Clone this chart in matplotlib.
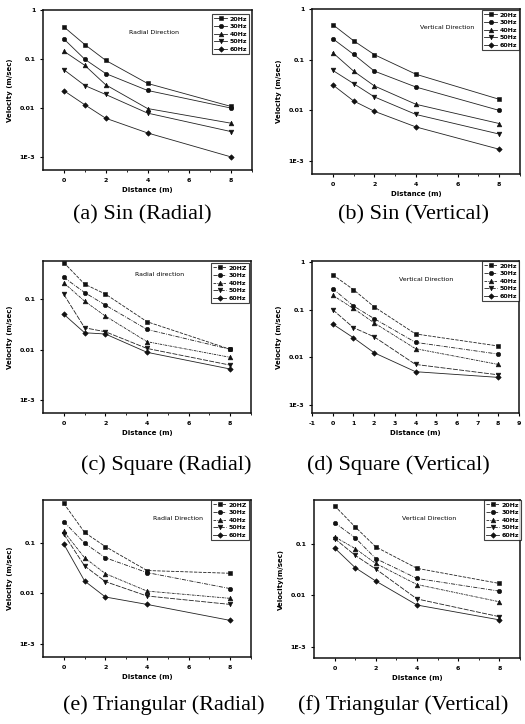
import matplotlib
matplotlib.use("Agg")
import matplotlib.pyplot as plt
from matplotlib.ticker import FixedLocator, NullLocator

W, H = 525, 724
distance = [0, 1, 2, 4, 8]
freqs = ["20Hz", "30Hz", "40Hz", "50Hz", "60Hz"]
freqs_c = ["20HZ", "30Hz", "40Hz", "50Hz", "60Hz"]

sin_radial = {
    "20Hz": [0.46, 0.20, 0.095, 0.032, 0.0108],
    "30Hz": [0.26, 0.10, 0.051, 0.023, 0.010],
    "40Hz": [0.146, 0.075, 0.030, 0.0098, 0.0049],
    "50Hz": [0.061, 0.029, 0.019, 0.0079, 0.0033],
    "60Hz": [0.0227, 0.0117, 0.0062, 0.0031, 0.0010],
}
sin_vertical = {
    "20Hz": [0.50, 0.24, 0.127, 0.052, 0.0166],
    "30Hz": [0.263, 0.129, 0.060, 0.029, 0.010],
    "40Hz": [0.139, 0.060, 0.0305, 0.0132, 0.0055],
    "50Hz": [0.062, 0.034, 0.0185, 0.0083, 0.0034],
    "60Hz": [0.032, 0.0154, 0.0096, 0.0047, 0.0017],
}
square_radial = {
    "20Hz": [0.53, 0.198, 0.126, 0.0356, 0.0101],
    "30Hz": [0.27, 0.135, 0.076, 0.025, 0.0101],
    "40Hz": [0.21, 0.091, 0.046, 0.0143, 0.0070],
    "50Hz": [0.124, 0.027, 0.0225, 0.0105, 0.0049],
    "60Hz": [0.050, 0.0215, 0.0203, 0.0088, 0.0041],
}
square_vertical = {
    "20Hz": [0.54, 0.264, 0.115, 0.031, 0.0173],
    "30Hz": [0.277, 0.12, 0.065, 0.0206, 0.0117],
    "40Hz": [0.20, 0.106, 0.053, 0.0152, 0.0071],
    "50Hz": [0.10, 0.042, 0.027, 0.0071, 0.0043],
    "60Hz": [0.050, 0.0258, 0.0125, 0.0050, 0.0038],
}
tri_radial = {
    "20Hz": [0.59, 0.158, 0.083, 0.028, 0.0247],
    "30Hz": [0.257, 0.097, 0.050, 0.0255, 0.0123],
    "40Hz": [0.165, 0.050, 0.0243, 0.011, 0.0079],
    "50Hz": [0.146, 0.0345, 0.0169, 0.0088, 0.0060],
    "60Hz": [0.093, 0.0174, 0.0084, 0.0060, 0.0029],
}
tri_vertical = {
    "20Hz": [0.54, 0.21, 0.086, 0.033, 0.0168],
    "30Hz": [0.255, 0.129, 0.051, 0.021, 0.0119],
    "40Hz": [0.135, 0.080, 0.041, 0.016, 0.0074],
    "50Hz": [0.125, 0.059, 0.032, 0.0084, 0.0038],
    "60Hz": [0.082, 0.034, 0.0187, 0.0064, 0.0033],
}

markers = ["s", "o", "^", "v", "D"]
msizes = [3.2, 3.2, 3.4, 3.4, 2.8]
styles_solid = ["-"] * 5
styles_mixed = [(0, (4, 1.5)), (0, (5, 1.5, 1, 1.5)), (0, (3, 1, 1, 1)), (0, (6, 1.5)), "-"]

panels = [
    (sin_radial, freqs, (43, 10, 252, 170), (5.4e-4, 1.02), "Radial Direction", (0.53, 0.86),
     (213, 14, 249, 61), styles_solid, [0, 2, 4, 6, 8], "Velocity (m/sec)", "(a) Sin (Radial)", (142, 215)),
    (sin_vertical, freqs, (312, 9, 520, 174), (5.5e-4, 1.02), "Vertical Direction", (0.65, 0.89),
     (479, 10, 519, 53), styles_solid, [0, 2, 4, 6, 8], "Velocity (m/sec)", "(b) Sin (Vertical)", (413, 215)),
    (square_radial, freqs_c, (43, 261, 251, 413), (5.5e-4, 0.57), "Radial direction", (0.56, 0.91),
     (205, 263, 249, 308), styles_mixed, [0, 2, 4, 6, 8], "Velocity (m/sec)", "(c) Square (Radial)", (166, 465)),
    (square_vertical, freqs, (312, 261, 519, 413), (6.8e-4, 1.05), "Vertical Direction", (0.55, 0.88),
     (484, 261, 519, 308), styles_mixed, list(range(-1, 10)), "Velocity (m/sec)", "(d) Square (Vertical)", (398, 465)),
    (tri_radial, freqs_c, (43, 500, 251, 657), (5.5e-4, 0.69), "Radial Direction", (0.65, 0.885),
     (205, 500, 249, 557), styles_mixed, [0, 2, 4, 6, 8], "Velocity (m/sec)", "(e) Triangular (Radial)", (164, 705)),
    (tri_vertical, freqs, (314, 500, 520, 658), (6.0e-4, 0.70), "Vertical Direction", (0.56, 0.885),
     (484, 500, 521, 552), styles_mixed, [0, 2, 4, 6, 8], "Velocity(m/sec)", "(f) Triangular (Vertical)", (403, 705)),
]

fig = plt.figure(figsize=(W / 100, H / 100), dpi=100)
fig.patch.set_facecolor("white")

def rect_px(l, t, r, b):
    return [l / W, 1 - b / H, (r - l) / W, (b - t) / H]

for (data, labels, rp, ylim, intext, tpos, lrect, styles, xticks, ylabel, caption, cpos) in panels:
    ax = fig.add_axes(rect_px(*rp))
    handles = []
    for i, f in enumerate(freqs):
        h, = ax.plot(distance, data[f], color="#222222", lw=0.6, ls=styles[i],
                     marker=markers[i], ms=msizes[i], mfc="#111111", mec="#111111", mew=0.4,
                     label=labels[i])
        handles.append(h)
    ax.set_yscale("log")
    ax.set_xlim(-1, 9)
    ax.set_ylim(*ylim)
    yt = [t for t in [1e-3, 1e-2, 1e-1, 1] if ylim[0] <= t <= ylim[1]]
    ax.yaxis.set_major_locator(FixedLocator(yt))
    ax.yaxis.set_minor_locator(NullLocator())
    lab = {1e-3: "1E-3", 1e-2: "0.01", 1e-1: "0.1", 1: "1"}
    ax.set_yticklabels([lab[t] for t in yt])
    ax.set_xticks(xticks)
    ax.set_xticklabels([str(t) for t in xticks])
    if len(xticks) < 8:
        ax.set_xticks([1, 3, 5, 7, 9], minor=True)
    for lbl in ax.get_xticklabels() + ax.get_yticklabels():
        lbl.set_fontsize(4.5)
        lbl.set_fontweight("bold")
    ax.tick_params(axis="both", which="major", direction="out", length=2.5, width=0.8, pad=3)
    ax.tick_params(axis="both", which="minor", direction="out", length=1.5, width=0.6)
    for s in ax.spines.values():
        s.set_linewidth(1.1)
        s.set_color("#111111")
    ax.set_xlabel("Distance (m)", fontsize=5, fontweight="bold", labelpad=3)
    ax.set_ylabel(ylabel, fontsize=5, fontweight="bold", labelpad=5)
    ax.text(tpos[0], tpos[1], intext, transform=ax.transAxes, fontsize=4.5,
            ha="center", va="center")
    ll, lt, lr, lb = lrect
    x0, y0, w, h = rect_px(ll, lt, lr, lb)
    leg = ax.legend(handles=handles, loc="upper right",
                    bbox_to_anchor=(x0 + w, y0 + h), bbox_transform=fig.transFigure,
                    fontsize=4.5, frameon=True, fancybox=False, edgecolor="#111111",
                    handlelength=2.0, handletextpad=0.4, borderpad=0.35, labelspacing=0.35,
                    borderaxespad=0)
    leg.get_frame().set_linewidth(0.8)
    for t in leg.get_texts():
        t.set_fontweight("bold")
    fig.text(cpos[0] / W, 1 - cpos[1] / H, caption, fontsize=16,
             family="Liberation Serif", ha="center", va="center")

fig.savefig("out.png", dpi=100, facecolor="white")
